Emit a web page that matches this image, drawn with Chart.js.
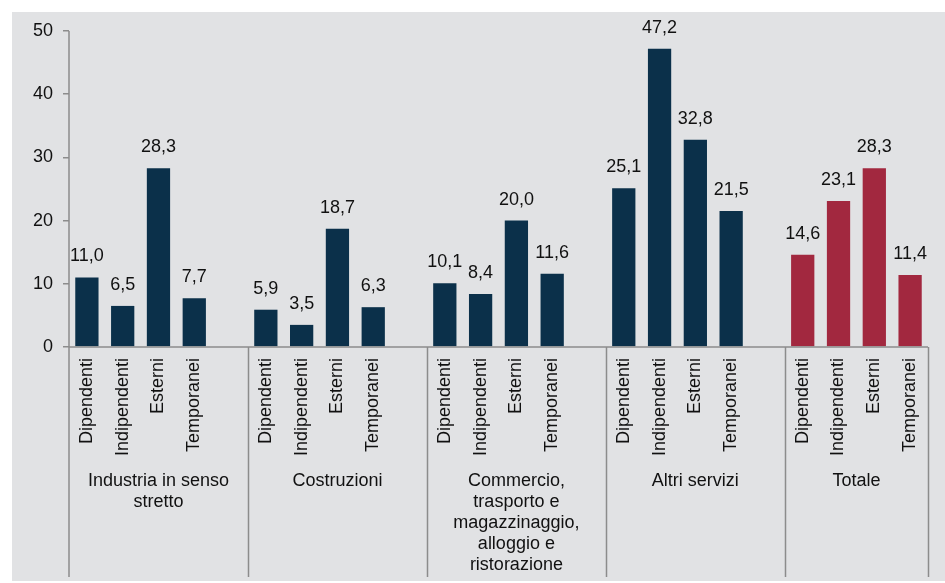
<!DOCTYPE html>
<html>
<head>
<meta charset="utf-8">
<script src="https://cdn.jsdelivr.net/npm/chart.js@4/dist/chart.umd.min.js"></script>
<style>
  html, body { margin: 0; padding: 0; background: #fff; }
  canvas { display: block; }
</style>
</head>
<body>
<canvas id="chart" width="945" height="583"></canvas>
<script>
// Dati del grafico
const groups = [
  ['Industria in senso', 'stretto'],
  ['Costruzioni'],
  ['Commercio,', 'trasporto e', 'magazzinaggio,', 'alloggio e', 'ristorazione'],
  ['Altri servizi'],
  ['Totale']
];
const subLabels = ['Dipendenti', 'Indipendenti', 'Esterni', 'Temporanei'];
const values = [
  [11.0, 6.5, 28.3, 7.7],
  [5.9, 3.5, 18.7, 6.3],
  [10.1, 8.4, 20.0, 11.6],
  [25.1, 47.2, 32.8, 21.5],
  [14.6, 23.1, 28.3, 11.4]
];
const yTicks = [0, 10, 20, 30, 40, 50];

const NAVY = '#0b304a';
const CRIMSON = '#a2283f';
const AXIS = '#8c8c8c';
const FONT = '"Liberation Sans", Arial, sans-serif';

// Costruisce le categorie: 4 barre per gruppo + uno slot vuoto tra i gruppi
const labels = [];
const data = [];
const colors = [];
const groupStart = [];
groups.forEach((g, gi) => {
  groupStart.push(labels.length);
  subLabels.forEach((s, si) => {
    labels.push(s);
    data.push(values[gi][si]);
    colors.push(gi === groups.length - 1 ? CRIMSON : NAVY);
  });
  if (gi < groups.length - 1) {
    labels.push('');
    data.push(null);
    colors.push(NAVY);
  }
});

const decorations = {
  id: 'decorations',
  beforeDraw(chart) {
    const ctx = chart.ctx;
    ctx.save();
    ctx.fillStyle = '#ffffff';
    ctx.fillRect(0, 0, chart.width, chart.height);
    ctx.fillStyle = '#e1e2e4';
    ctx.fillRect(12, 12, chart.width - 12, 569);
    ctx.restore();
  },
  afterDraw(chart) {
    const ctx = chart.ctx;
    const x = chart.scales.x;
    const area = chart.chartArea;
    const slot = (area.right - area.left) / labels.length;
    const bottom = 577;
    ctx.save();
    ctx.strokeStyle = AXIS;
    ctx.lineWidth = 1.5;

    // asse y
    ctx.beginPath();
    ctx.moveTo(area.left, area.top);
    ctx.lineTo(area.left, bottom);
    // asse x
    ctx.moveTo(area.left, area.bottom);
    ctx.lineTo(area.right, area.bottom);
    ctx.stroke();

    // separatori di gruppo + etichette di gruppo
    const bounds = groupStart.map(i => x.getPixelForValue(i) - slot / 2);
    bounds.push(area.right);
    ctx.beginPath();
    bounds.slice(1).forEach(b => {
      const px = Math.round(b) + 0.5;
      ctx.moveTo(px, area.bottom);
      ctx.lineTo(px, bottom);
    });
    ctx.stroke();

    ctx.fillStyle = '#111';
    ctx.font = '18px ' + FONT;
    ctx.textAlign = 'center';
    ctx.textBaseline = 'middle';
    groups.forEach((lines, gi) => {
      const cx = (bounds[gi] + bounds[gi + 1]) / 2;
      lines.forEach((t, li) => ctx.fillText(t, cx, 481 + li * 21));
    });

    // etichette dei valori
    const meta = chart.getDatasetMeta(0);
    ctx.textBaseline = 'alphabetic';
    meta.data.forEach((bar, i) => {
      if (data[i] == null) return;
      ctx.fillText(data[i].toFixed(1).replace('.', ','), bar.x, bar.y - 16);
    });
    ctx.restore();
  }
};

new Chart(document.getElementById('chart'), {
  type: 'bar',
  data: {
    labels: labels,
    datasets: [{
      data: data,
      backgroundColor: colors,
      borderWidth: 0,
      categoryPercentage: 1,
      barPercentage: 0.65
    }]
  },
  options: {
    responsive: false,
    animation: false,
    layout: { padding: { top: 31, right: 17, left: 0, bottom: 0 } },
    plugins: {
      legend: { display: false },
      tooltip: { enabled: false }
    },
    scales: {
      x: {
        grid: { display: false, drawTicks: false },
        border: { display: false },
        ticks: {
          autoSkip: false,
          minRotation: 90,
          maxRotation: 90,
          padding: 11,
          color: '#111',
          font: { family: FONT, size: 18 }
        },
        afterFit(scale) { scale.height = 236; }
      },
      y: {
        min: 0,
        max: 50,
        afterBuildTicks(scale) { scale.ticks = yTicks.map(v => ({ value: v })); },
        grid: { drawOnChartArea: false, drawTicks: true, tickLength: 6, color: AXIS, lineWidth: 1.5 },
        border: { display: false },
        ticks: {
          padding: 10,
          color: '#111',
          font: { family: FONT, size: 18 }
        },
        afterFit(scale) { scale.width = 69; }
      }
    }
  },
  plugins: [decorations]
});
</script>
</body>
</html>
